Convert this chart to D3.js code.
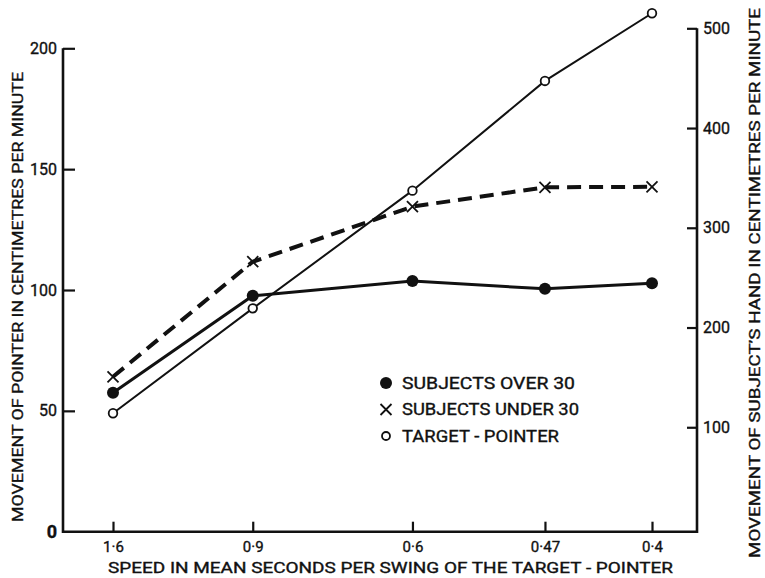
<!DOCTYPE html>
<html>
<head>
<meta charset="utf-8">
<script src="https://cdn.jsdelivr.net/npm/d3@7"></script>
<style>
  html, body { margin: 0; padding: 0; background: #fff; }
  svg { display: block; }
  text { font-family: Roboto, "Liberation Sans", Arial, sans-serif; fill: #111; stroke: #111; stroke-width: 0.35px; }
</style>
</head>
<body>
<svg id="chart" width="765" height="578"></svg>
<script>
// Mean seconds per swing of the target-pointer (x categories)
const periods = [1.6, 0.9, 0.6, 0.47, 0.4];
const periodLabels = ["1·6", "0·9", "0·6", "0·47", "0·4"];

// Movement of pointer, cm per minute (left-axis units)
const over30 = [57.5, 97.6, 103.7, 100.5, 102.8];
const under30 = [64.1, 111.7, 134.5, 142.5, 142.7];
const targetPointer = [49.0, 92.4, 141.1, 186.5, 214.5];

const leftTicks = [0, 50, 100, 150, 200];
const rightTicks = [100, 200, 300, 400, 500];

const legendLabels = ["SUBJECTS  OVER  30", "SUBJECTS UNDER 30", "TARGET - POINTER"];
const xTitle = "SPEED IN MEAN SECONDS PER SWING OF THE TARGET - POINTER";
const leftTitle = "MOVEMENT OF POINTER IN CENTIMETRES PER MINUTE";
const rightTitle = "MOVEMENT OF SUBJECT\u2019S HAND IN CENTIMETRES PER MINUTE";

// Frame
const frameLeft = 63, frameRight = 697, frameBottom = 531.7;
const ink = "#111";

const svg = d3.select("#chart");

// x is linear in swing frequency (swings per second)
const x = d3.scaleLinear().domain([1 / 1.6, 1 / 0.4]).range([113, 652]);
const yLeft = d3.scaleLinear().domain([0, 200]).range([frameBottom, 48.3]);
const yRight = d3.scaleLinear().domain([0, 500]).range([527, 28.3]);

// ---- axes ----
const gLeft = svg.append("g").attr("transform", `translate(${frameLeft},0)`)
  .call(d3.axisLeft(yLeft).tickValues(leftTicks).tickSizeInner(-12).tickSizeOuter(0).tickPadding(6));
gLeft.select(".domain").remove();
gLeft.selectAll(".tick line").attr("stroke", ink).attr("stroke-width", 2.2);
gLeft.selectAll(".tick text")
  .style("font-weight", d => d === 0 ? "bold" : "normal")
  .style("font-size", d => d === 0 ? "18px" : "16px");
gLeft.selectAll(".tick").filter(d => d === 0).select("line").remove();

const gRight = svg.append("g").attr("transform", `translate(${frameRight},0)`)
  .call(d3.axisRight(yRight).tickValues(rightTicks).tickSizeInner(-10).tickSizeOuter(0).tickPadding(6));
gRight.select(".domain").remove();
gRight.selectAll(".tick line").attr("stroke", ink).attr("stroke-width", 2.2);
gRight.selectAll(".tick text").style("font-size", "16px");

const xTickVals = periods.map(p => 1 / p);
const gBottom = svg.append("g").attr("transform", `translate(0,${frameBottom})`)
  .call(d3.axisBottom(x).tickValues(xTickVals).tickFormat((d, i) => periodLabels[i])
    .tickSizeInner(-10).tickSizeOuter(0).tickPadding(10));
gBottom.select(".domain").remove();
gBottom.selectAll(".tick line").attr("stroke", ink).attr("stroke-width", 2.2);
gBottom.selectAll(".tick text").style("font-size", "15px");

// axis lines
const axisLines = svg.append("g").attr("stroke", ink).attr("stroke-width", 2.6).attr("fill", "none");
axisLines.append("path")
  .attr("d", `M${frameLeft},${yLeft(200)}V${frameBottom}H${frameRight}V${yRight(500)}`);

// ---- series ----
const line = d3.line().x((d, i) => x(1 / periods[i])).y(d => yLeft(d));

svg.append("path").datum(targetPointer)
  .attr("d", line).attr("fill", "none").attr("stroke", ink).attr("stroke-width", 2);
svg.append("path").datum(over30)
  .attr("d", line).attr("fill", "none").attr("stroke", ink).attr("stroke-width", 3);
svg.append("path").datum(under30)
  .attr("d", line).attr("fill", "none").attr("stroke", ink).attr("stroke-width", 4)
  .attr("stroke-dasharray", "14,8");

const crossPath = "M-5.5,-5.5L5.5,5.5M-5.5,5.5L5.5,-5.5";

svg.append("g").selectAll("circle").data(over30).join("circle")
  .attr("cx", (d, i) => x(1 / periods[i])).attr("cy", d => yLeft(d))
  .attr("r", 6).attr("fill", ink);

svg.append("g").selectAll("path").data(under30).join("path")
  .attr("transform", (d, i) => `translate(${x(1 / periods[i])},${yLeft(d)})`)
  .attr("d", crossPath).attr("stroke", ink).attr("stroke-width", 1.8).attr("fill", "none");

svg.append("g").selectAll("circle").data(targetPointer).join("circle")
  .attr("cx", (d, i) => x(1 / periods[i])).attr("cy", d => yLeft(d))
  .attr("r", 4.3).attr("fill", "#fff").attr("stroke", ink).attr("stroke-width", 1.8);

// ---- legend ----
const legend = svg.append("g").attr("transform", "translate(386,383)");
const rowGap = 26.5;
legend.append("circle").attr("cx", 0).attr("cy", 0).attr("r", 6).attr("fill", ink);
legend.append("path").attr("transform", `translate(0,${rowGap})`)
  .attr("d", crossPath).attr("stroke", ink).attr("stroke-width", 1.8).attr("fill", "none");
legend.append("circle").attr("cx", 0).attr("cy", rowGap * 2).attr("r", 4).attr("fill", "#fff")
  .attr("stroke", ink).attr("stroke-width", 1.8);
const legendWidths = [173, 177, 157];
legend.selectAll("text").data(legendLabels).join("text")
  .attr("x", 16).attr("y", (d, i) => i * rowGap)
  .attr("dy", "0.36em")
  .attr("textLength", (d, i) => legendWidths[i]).attr("lengthAdjust", "spacingAndGlyphs")
  .style("font-size", "16.5px")
  .text(d => d);

// ---- titles ----
svg.append("text")
  .attr("x", 390.5).attr("y", 572.5).attr("text-anchor", "middle")
  .attr("textLength", 565).attr("lengthAdjust", "spacingAndGlyphs")
  .style("font-size", "14.5px").text(xTitle);

svg.append("text")
  .attr("transform", "translate(23,297) rotate(-90)").attr("text-anchor", "middle")
  .attr("textLength", 450).attr("lengthAdjust", "spacingAndGlyphs")
  .style("font-size", "15px").text(leftTitle);

svg.append("text")
  .attr("transform", "translate(760,283) rotate(-90)").attr("text-anchor", "middle")
  .attr("textLength", 550).attr("lengthAdjust", "spacingAndGlyphs")
  .style("font-size", "15px").text(rightTitle);
</script>
</body>
</html>
